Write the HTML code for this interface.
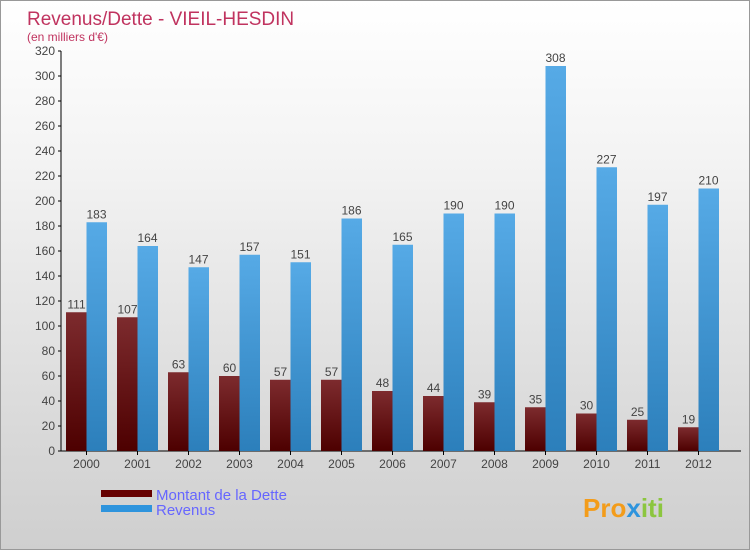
<!DOCTYPE html>
<html><head><meta charset="utf-8"><style>
body{margin:0}
#c{position:relative;width:748px;height:548px;border:1px solid #999;background:linear-gradient(#fff,#f3f3f3 30%,#d8d8d8 80%,#cfcfcf);font-family:"Liberation Sans",sans-serif;overflow:hidden}
</style></head><body>
<div id="c">
<svg id="s" width="748" height="548" xmlns="http://www.w3.org/2000/svg">
<defs>
<linearGradient id="gd" x1="0" y1="0" x2="0" y2="1"><stop offset="0" stop-color="#7d2b2e"/><stop offset="1" stop-color="#4d0000"/></linearGradient>
<linearGradient id="gr" x1="0" y1="0" x2="0" y2="1"><stop offset="0" stop-color="#56aae6"/><stop offset="1" stop-color="#2c7fbb"/></linearGradient>
</defs>
<text x="26" y="24" font-size="19" fill="#c0335f">Revenus/Dette - VIEIL-HESDIN</text>
<text x="26" y="40" font-size="12" fill="#c0335f">(en milliers d'€)</text>
<g id="ax"></g><g id="bars"></g>
<rect x="100" y="489" width="51" height="7" fill="#660000"/>
<text x="155" y="499" font-size="15" fill="#6666ff">Montant de la Dette</text>
<rect x="100" y="504" width="51" height="7" fill="#2e94dd"/>
<text x="155" y="514" font-size="15" fill="#6666ff">Revenus</text>
<text x="582" y="516" font-size="26" font-weight="bold" fill="#f39c1a">Pro<tspan fill="#2e94dd">x</tspan><tspan fill="#8cc63f">iti</tspan></text>
</svg></div>
<script>
const years=["2000","2001","2002","2003","2004","2005","2006","2007","2008","2009","2010","2011","2012"];
const dette=[111,107,63,60,57,57,48,44,39,35,30,25,19];
const revenus=[183,164,147,157,151,186,165,190,190,308,227,197,210];
const ticks=[0,20,40,60,80,100,120,140,160,180,200,220,240,260,280,300,320];
const NS="http://www.w3.org/2000/svg";
const y=v=>450-v*1.25, xc=i=>85.5+i*51;
function mk(t,a,p){const e=document.createElementNS(NS,t);for(const k in a)e.setAttribute(k,a[k]);p.appendChild(e);return e;}
const ax=document.getElementById('ax'), bars=document.getElementById('bars');
let l=mk('line',{x1:60,y1:50,x2:60,y2:450,stroke:'#000'},ax);


l=mk('line',{x1:60,y1:450,x2:740,y2:450,stroke:'#000'},ax);


ticks.forEach(t=>{
 mk('line',{x1:57,y1:y(t),x2:60,y2:y(t),stroke:'#000'},ax);
 const e=mk('text',{x:54,y:y(t)+4,'font-size':12,'text-anchor':'end',fill:'#444'},ax);e.textContent=t;
 
 
});
years.forEach((yr,i)=>{
 const c=xc(i);
 mk('line',{x1:c,y1:450,x2:c,y2:454,stroke:'#000'},ax);
 const e=mk('text',{x:c,y:467,'font-size':12,'text-anchor':'middle',fill:'#444'},ax);e.textContent=yr;
 
 
 let b=mk('rect',{x:c-20.5,y:y(dette[i]),width:20.5,height:450-y(dette[i]),fill:'url(#gd)'},bars);
 
 
 b=mk('rect',{x:c,y:y(revenus[i]),width:20.5,height:450-y(revenus[i]),fill:'url(#gr)'},bars);
 
 
 let t=mk('text',{x:c-10,y:y(dette[i])-4,'font-size':12,'text-anchor':'middle',fill:'#444'},bars);t.textContent=dette[i];
 
 
 t=mk('text',{x:c+10,y:y(revenus[i])-4,'font-size':12,'text-anchor':'middle',fill:'#444'},bars);t.textContent=revenus[i];
 
 
});
</script>
</body></html>
